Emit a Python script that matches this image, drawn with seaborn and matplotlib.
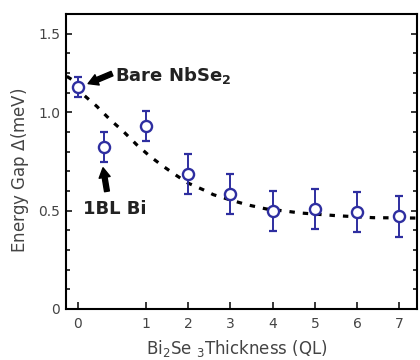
import numpy as np
import matplotlib
matplotlib.use("Agg")
import matplotlib.pyplot as plt
import seaborn as sns
from matplotlib.ticker import MultipleLocator

# measured points (Bare NbSe2, 1BL Bi, then Bi2Se3 thickness 1..7 QL)
thickness = [0, 0.38, 1, 2, 3, 4, 5, 6, 7]
gap = [1.13, 0.824, 0.93, 0.686, 0.584, 0.496, 0.509, 0.493, 0.472]
gap_err = [0.05, 0.075, 0.075, 0.1, 0.1, 0.102, 0.102, 0.1, 0.104]

# dashed guide curve
curve_x = [-0.16, -0.088, 0.082, 0.279, 0.475, 0.67, 0.867, 1.10, 1.415, 1.73,
           2.0, 2.36, 2.60, 2.99, 3.39, 3.86, 4.25, 4.65, 5.52, 6.38, 7.42]
curve_y = [1.183, 1.167, 1.09, 1.031, 0.963, 0.903, 0.835, 0.776, 0.725, 0.678,
           0.64, 0.606, 0.581, 0.555, 0.53, 0.508, 0.499, 0.488, 0.474, 0.464, 0.462]

ytick_pos = [0, 0.5, 1.0, 1.4]
ytick_labels = ["0", "0.5", "1.0", "1.5"]
xticks = [0, 1, 2, 3, 4, 5, 6, 7]

blue = "#2e2ea0"

sns.set_style("ticks")
plt.rcParams["font.family"] = ["DejaVu Sans"]


# axis is stretched between 0 and 1 (room for the 1BL Bi point)
def fwd(x):
    x = np.asarray(x, dtype=float)
    return np.where(x < 1, x * 1.61, x + 0.61)


def inv(u):
    u = np.asarray(u, dtype=float)
    return np.where(u < 1.61, u / 1.61, u - 0.61)


fig = plt.figure(figsize=(4.2, 3.6), dpi=100)
ax = fig.add_axes([0.156, 0.142, 0.837, 0.819])
ax.set_xscale("function", functions=(fwd, inv))

sns.lineplot(x=curve_x, y=curve_y, ax=ax, color="black", lw=2.3,
             linestyle=(0, (1.7, 2.5)), sort=False, zorder=2)

ax.errorbar(thickness, gap, yerr=gap_err, fmt="none", ecolor=blue,
            elinewidth=1.4, capsize=3, capthick=1.6, zorder=3)
sns.scatterplot(x=thickness, y=gap, ax=ax, marker="o", s=64, color="white",
                edgecolor=blue, linewidth=1.7, zorder=4)

ax.set_xlim(-0.179, 7.417)
ax.set_ylim(0, 1.5)
ax.set_xticks(xticks)
ax.set_xticklabels([str(t) for t in xticks])
ax.xaxis.set_minor_locator(plt.NullLocator())
ax.set_yticks(ytick_pos)
ax.set_yticklabels(ytick_labels)
ax.yaxis.set_minor_locator(MultipleLocator(0.1))

ax.tick_params(axis="both", which="both", direction="in", colors="black",
               labelcolor="#444444", labelsize=10, width=1.1)
ax.tick_params(axis="y", which="both", right=True, pad=4)
ax.tick_params(axis="y", which="major", length=4.5)
ax.tick_params(axis="y", which="minor", length=3)
ax.tick_params(axis="x", which="major", length=5, pad=6)

for sp in ax.spines.values():
    sp.set_linewidth(1.5)
    sp.set_color("black")

ax.set_ylabel(r"Energy Gap $\Delta$(meV)", fontsize=12, color="#444444")
ax.yaxis.set_label_coords(-0.098, 0.471)
ax.set_xlabel(r"Bi$_2$Se $_3$Thickness (QL)", fontsize=12, color="#444444",
              va="top")
ax.xaxis.set_label_coords(0.488, -0.098)

arrow = dict(arrowstyle="simple,head_length=0.7,head_width=0.8,tail_width=0.35",
             color="black", shrinkA=0, shrinkB=0)
ax.annotate("", xy=(0.153, 1.146), xytext=(0.504, 1.197), arrowprops=arrow,
            annotation_clip=False, zorder=5)
ax.text(0.55, 1.187, r"Bare NbSe$_\mathbf{2}$", fontsize=13, fontweight="bold",
        ha="left", va="center", color="#222222")

ax.annotate("", xy=(0.372, 0.718), xytext=(0.43, 0.598), arrowprops=arrow,
            annotation_clip=False, zorder=5)
ax.text(0.078, 0.509, "1BL Bi", fontsize=13, fontweight="bold",
        ha="left", va="center", color="#222222")

fig.savefig("out.png", dpi=100)
